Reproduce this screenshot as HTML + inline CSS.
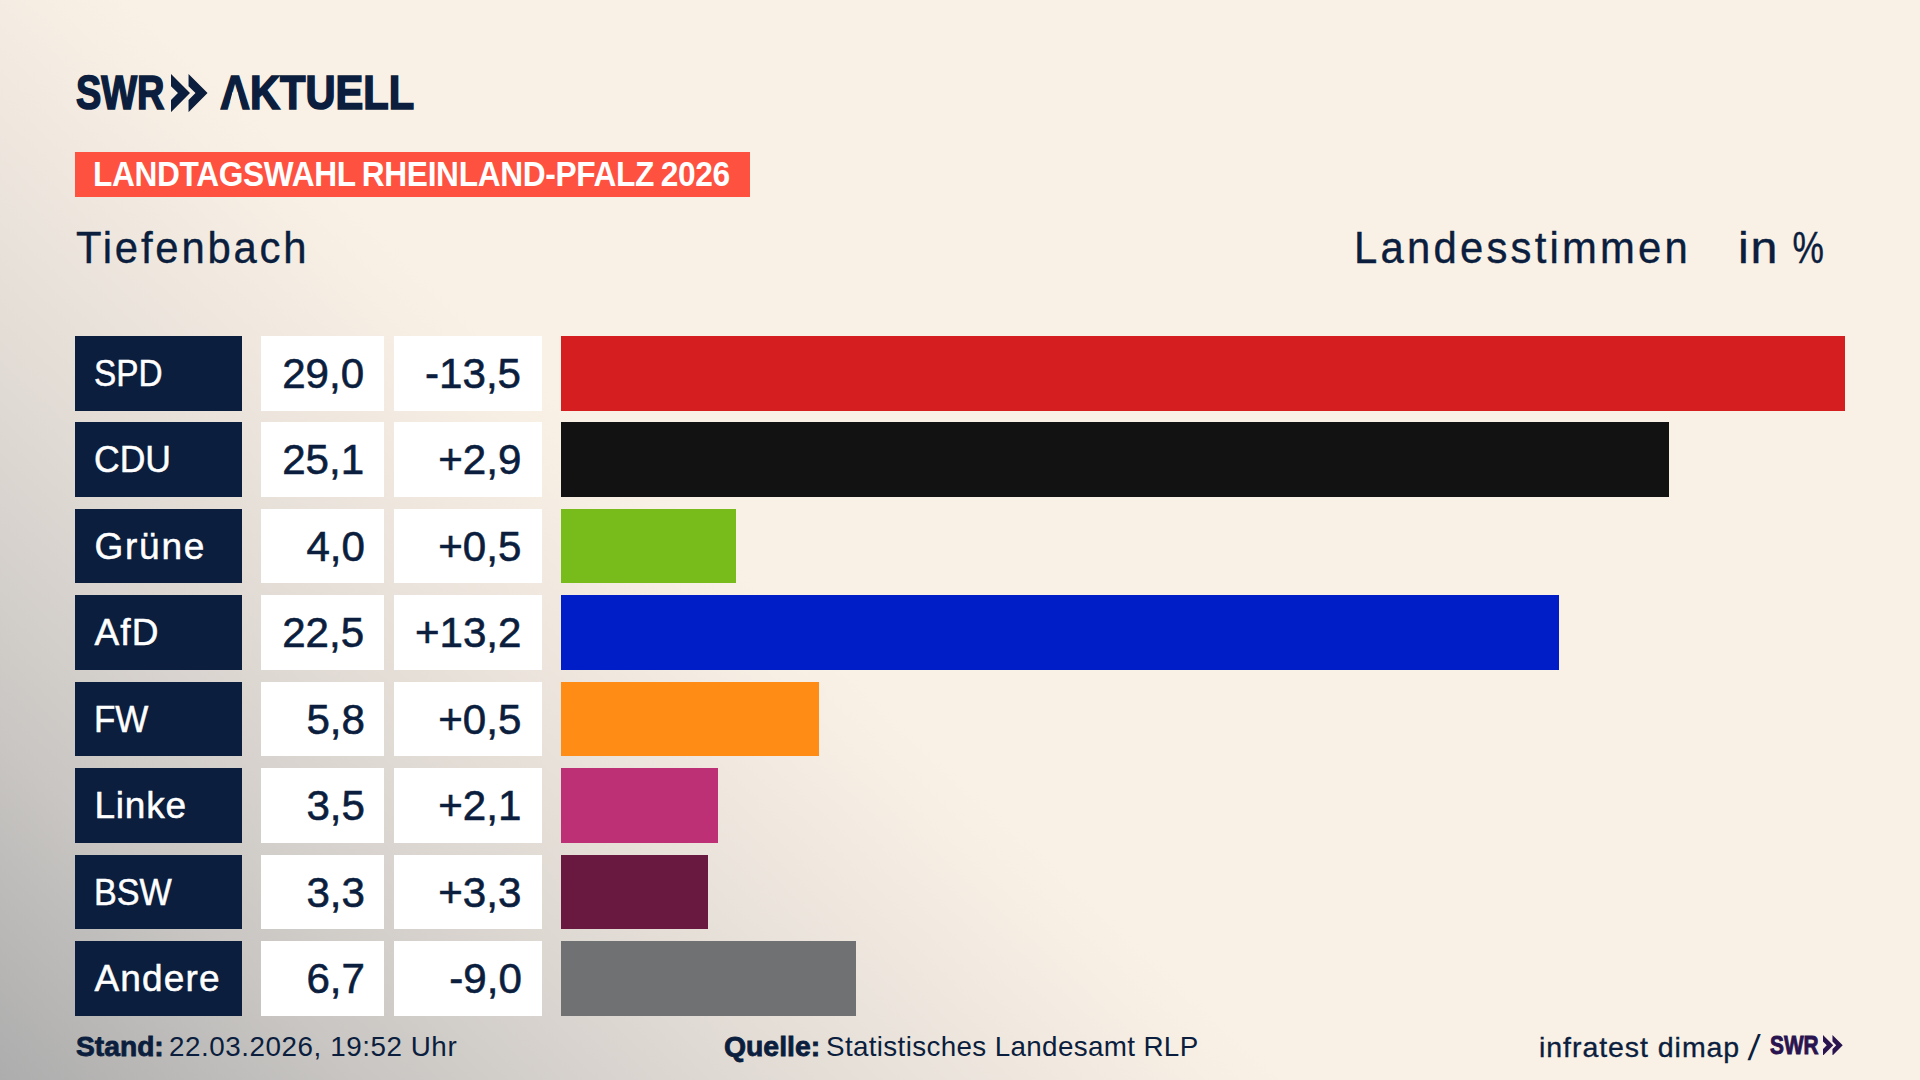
<!DOCTYPE html>
<html lang="de">
<head>
<meta charset="utf-8">
<title>SWR Aktuell – Landtagswahl Rheinland-Pfalz 2026 – Tiefenbach</title>
<style>
*{margin:0;padding:0;box-sizing:border-box}
html,body{width:1920px;height:1080px;overflow:hidden;background:#faf1e6}
body{font-family:"Liberation Sans",sans-serif;color:#0b1e3e}
#stage{position:relative;width:1920px;height:1080px;overflow:hidden;
 --bg:linear-gradient(43deg,#adadad 0,#c9c6c3 12%,#e0dad4 24%,#f0e8df 34%,#faf1e6 42%);
 background:var(--bg);
}
.acut{position:absolute;left:228px;top:92px;width:14px;height:10px;background:var(--bg) fixed;clip-path:polygon(4.4px .5px,9.8px .5px,12.2px 9.5px,2px 9.5px)}
.t{position:absolute;white-space:nowrap;line-height:1;display:block;transform-origin:0 50%}
.r{transform-origin:100% 50%}
.b{font-weight:700}
/* logo */
.logo .t{font-weight:700;-webkit-text-stroke:1.7px #0b1e3e;paint-order:stroke fill}
.logo .swr{left:75.5px;top:69.2px;font-size:48px;transform:scaleX(.79);letter-spacing:0}
.logo .akt{left:219.8px;top:69.2px;font-size:48px;transform:scaleX(.867);letter-spacing:0}
.logo svg{position:absolute;left:171.25px;top:73.6px;width:37px;height:38.15px}
/* banner */
.banner{position:absolute;left:75px;top:152px;width:675px;height:45px;background:#fe5140}
.banner .t{left:18.2px;top:4.3px;font-size:35px;font-weight:700;color:#fff;transform:scaleX(.905);letter-spacing:-.38px;word-spacing:-2px}
.place,.kind,.unit{top:226px;font-size:44px;-webkit-text-stroke:.4px #0b1e3e;transform:scaleX(.95);letter-spacing:2.8px}
.place{left:75.8px;letter-spacing:2.95px}
.kind{left:1354px;letter-spacing:3.4px}
.unit{left:1737.7px;letter-spacing:1.5px;transform:scaleX(1.1)}
.unit .pc{display:inline-block;transform:scaleX(.73);transform-origin:100% 50%;letter-spacing:0;margin-left:-11.6px}
/* rows */
.row{position:absolute;left:0;width:1920px;height:74.6px}
.row .lab{position:absolute;left:75px;top:0;width:167px;height:100%;background:#0b1e3e;color:#fff}
.row .val{position:absolute;left:261px;top:0;width:123px;height:100%;background:#fff}
.row .chg{position:absolute;left:394px;top:0;width:148px;height:100%;background:#fff}
.row .bar{position:absolute;left:561px;top:0;height:100%}
.lab .t{left:19.4px;top:19px;font-size:37px;-webkit-text-stroke:.5px #fff}
.val .t,.chg .t{right:19.5px;top:17px;font-size:41.7px;-webkit-text-stroke:.6px #0b1e3e;transform:scaleX(1.01)}
.chg .t{right:20.5px}
/* footer */
.foot .t{top:1033.4px;font-size:27.8px}
.foot .b{-webkit-text-stroke:.8px #0b1e3e}
.foot .sl{display:inline-block;font-size:36px;line-height:0;letter-spacing:0;transform:skewX(-7deg);transform-origin:50% 50%;position:relative;top:2.2px;left:0px;-webkit-text-stroke:0}
.foot .swr2{left:1769.5px;top:1032px;font-size:26.2px;color:#2a1450;-webkit-text-stroke:.97px #2a1450;transform:scaleX(.795)}
</style>
</head>
<body>
<div id="stage">
 <div class="logo">
  <span class="t swr">SWR</span>
  <svg viewBox="0 0 37 38.15" aria-hidden="true"><path fill="#0b1e3e" d="M0 0 L19 19.07 L0 38.15 L0 25.9 L6.95 19.07 L0 12.2 Z M17.55 0 L36.55 19.07 L17.55 38.15 L17.55 25.9 L24.5 19.07 L17.55 12.2 Z"/></svg>
  <span class="t akt">AKTUELL</span>
  <i class="acut"></i>
 </div>
 <div class="banner"><span class="t">LANDTAGSWAHL RHEINLAND-PFALZ 2026</span></div>
 <span class="t place">Tiefenbach</span>
 <span class="t kind">Landesstimmen</span>
 <span class="t unit">in <span class="pc">%</span></span>

 <div class="row" style="top:336.00px"><div class="lab"><span class="t" style="transform:scaleX(.9)">SPD</span></div><div class="val"><span class="t r">29,0</span></div><div class="chg"><span class="t r">-13,5</span></div><div class="bar" style="width:1284px;background:#d51e1f"></div></div>
 <div class="row" style="top:422.45px"><div class="lab"><span class="t" style="transform:scaleX(.96)">CDU</span></div><div class="val"><span class="t r">25,1</span></div><div class="chg"><span class="t r">+2,9</span></div><div class="bar" style="width:1108px;background:#121212"></div></div>
 <div class="row" style="top:508.90px"><div class="lab"><span class="t" style="letter-spacing:1.8px">Grüne</span></div><div class="val"><span class="t r">4,0</span></div><div class="chg"><span class="t r">+0,5</span></div><div class="bar" style="width:175px;background:#78bc1b"></div></div>
 <div class="row" style="top:595.35px"><div class="lab"><span class="t" style="letter-spacing:1.2px">AfD</span></div><div class="val"><span class="t r">22,5</span></div><div class="chg"><span class="t r">+13,2</span></div><div class="bar" style="width:998px;background:#001ec8"></div></div>
 <div class="row" style="top:681.80px"><div class="lab"><span class="t" style="transform:scaleX(.945)">FW</span></div><div class="val"><span class="t r">5,8</span></div><div class="chg"><span class="t r">+0,5</span></div><div class="bar" style="width:258px;background:#ff8c15"></div></div>
 <div class="row" style="top:768.25px"><div class="lab"><span class="t" style="letter-spacing:.8px">Linke</span></div><div class="val"><span class="t r">3,5</span></div><div class="chg"><span class="t r">+2,1</span></div><div class="bar" style="width:157px;background:#be3075"></div></div>
 <div class="row" style="top:854.70px"><div class="lab"><span class="t" style="transform:scaleX(.923)">BSW</span></div><div class="val"><span class="t r">3,3</span></div><div class="chg"><span class="t r">+3,3</span></div><div class="bar" style="width:147px;background:#691940"></div></div>
 <div class="row" style="top:941.15px"><div class="lab"><span class="t" style="letter-spacing:1.2px">Andere</span></div><div class="val"><span class="t r">6,7</span></div><div class="chg"><span class="t r">-9,0</span></div><div class="bar" style="width:295px;background:#707173"></div></div>

 <div class="foot">
  <span class="t b" style="left:75.5px;transform:scaleX(1.015)">Stand:</span><span class="t" style="left:169px;letter-spacing:.55px">22.03.2026, 19:52 Uhr</span>
  <span class="t b" style="left:723.5px;transform:scaleX(1.02)">Quelle:</span><span class="t" style="left:826px;letter-spacing:.35px">Statistisches Landesamt RLP</span>
  <span class="t" style="left:1539px;font-size:28.5px;letter-spacing:.95px;-webkit-text-stroke:.35px #0b1e3e">infratest dimap <span class="sl">/</span></span>
  <span class="t b swr2">SWR</span>
  <svg style="position:absolute;left:1823.1px;top:1034.7px;width:19.98px;height:20.6px" viewBox="0 0 37 38.15" aria-hidden="true"><path fill="#2a1450" d="M0 0 L19 19.07 L0 38.15 L0 25.9 L6.95 19.07 L0 12.2 Z M17.55 0 L36.55 19.07 L17.55 38.15 L17.55 25.9 L24.5 19.07 L17.55 12.2 Z"/></svg>
 </div>
</div>
</body>
</html>
